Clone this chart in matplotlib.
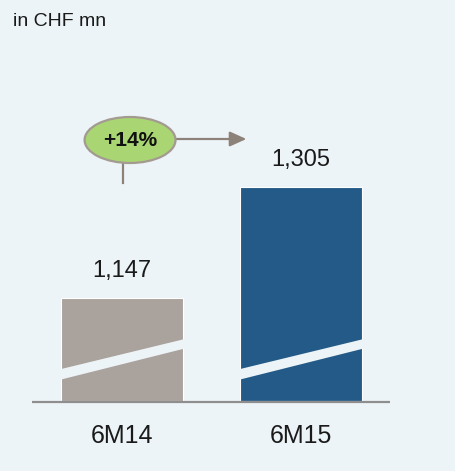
import matplotlib.pyplot as plt
from matplotlib.patches import Ellipse, Polygon

periods = ['6M14', '6M15']
values = [1147, 1305]
bar_colors = ['#aaa29c', '#245a87']
growth_label = '+14%'

bg = '#edf4f7'
base = 1000          # axis is cut, bars start here
px = 1 / 0.7025      # value units per pixel

plt.rcParams['font.family'] = ['Liberation Sans', 'DejaVu Sans']

fig = plt.figure(figsize=(4.56, 4.71), dpi=100, facecolor=bg)
ax = fig.add_axes([0, 0, 1, 1])
ax.set_facecolor(bg)
ax.set_xlim(-0.6816, 1.866)
ax.set_ylim(base - 70 * px, base + 401 * px)
ax.axis('off')

x = range(len(values))
width = 0.6816
bars = ax.bar(x, [v - base for v in values], bottom=base, width=width,
              color=bar_colors, edgecolor='white', linewidth=0.8, zorder=2)

# diagonal break stripe across each bar
for xi in x:
    l, r = xi - width / 2 - 0.01, xi + width / 2 + 0.01
    stripe = Polygon([(l, base + 21 * px), (r, base + 52.5 * px),
                      (r, base + 62 * px), (l, base + 31.5 * px)],
                     closed=True, facecolor=bg, edgecolor='none', zorder=3)
    ax.add_patch(stripe)

# baseline
ax.plot([-0.503, 1.497], [base - 1 * px, base - 1 * px], color='#8e8e8e',
        lw=1.6, solid_capstyle='butt', zorder=4)

for xi, v in zip(x, values):
    ax.annotate(f'{v:,}', (xi, v), xytext=(0, 11), textcoords='offset points',
                ha='center', va='bottom', fontsize=17, color='#1a1a1a')
    ax.text(xi, base - 35 * px, periods[xi], ha='center', va='center',
            fontsize=18, color='#1a1a1a')

ax.text(13 / 456, 1 - 21 / 471, 'in CHF mn', transform=ax.transAxes,
        ha='left', va='center', fontsize=14, color='#1a1a1a')

# growth bubble with arrow
ey = base + 261 * px
ax.plot([0.006, 0.006], [base + 238 * px, base + 218 * px], color='#8c8279',
        lw=1.6, zorder=4)
ax.annotate('', xy=(0.695, ey + 1 * px), xytext=(0.30, ey + 1 * px),
            arrowprops=dict(arrowstyle='-|>,head_length=1.0,head_width=0.45',
                            color='#8c8279', lw=1.6, shrinkA=0, shrinkB=0),
            zorder=4)
bubble = Ellipse((0.045, ey), 0.508, 46 * px, facecolor='#a9d672',
                 edgecolor='#a39a91', lw=1.6, zorder=5)
ax.add_patch(bubble)
ax.text(0.045, ey, growth_label, ha='center', va='center', fontsize=15,
        fontweight='bold', color='#111111', zorder=6)

fig.savefig('out.png', dpi=100, facecolor=bg)
